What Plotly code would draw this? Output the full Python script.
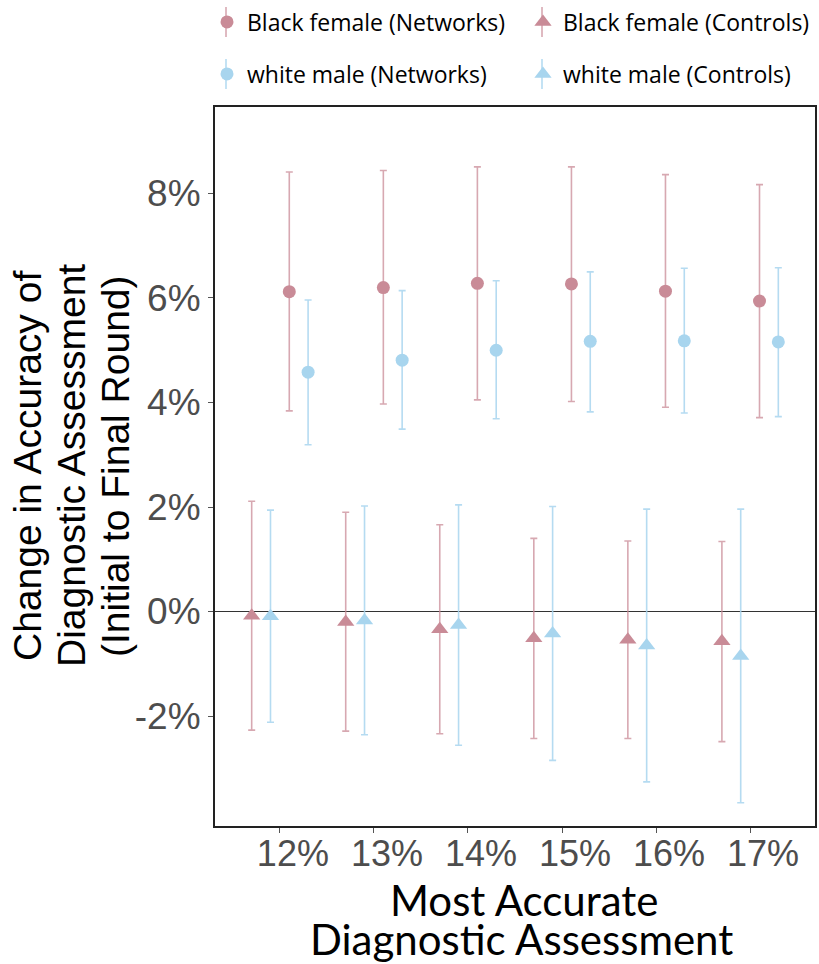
import numpy as np
import plotly.graph_objects as go

# ---------------- data ----------------
categories = [12, 13, 14, 15, 16, 17]
tick_labels = ["12%", "13%", "14%", "15%", "16%", "17%"]
y_ticks = [-2, 0, 2, 4, 6, 8]
y_tick_labels = ["-2%", "0%", "2%", "4%", "6%", "8%"]

bf_net = [6.12, 6.20, 6.28, 6.27, 6.13, 5.94]
bf_net_hi = [8.41, 8.44, 8.51, 8.51, 8.36, 8.17]
bf_net_lo = [3.84, 3.97, 4.05, 4.02, 3.91, 3.71]

wm_net = [4.58, 4.81, 5.00, 5.17, 5.18, 5.16]
wm_net_hi = [5.96, 6.14, 6.33, 6.50, 6.57, 6.58]
wm_net_lo = [3.19, 3.49, 3.69, 3.82, 3.80, 3.73]

bf_ctl = [-0.08, -0.20, -0.34, -0.51, -0.54, -0.57]
bf_ctl_hi = [2.11, 1.90, 1.66, 1.40, 1.35, 1.34]
bf_ctl_lo = [-2.27, -2.29, -2.34, -2.43, -2.43, -2.49]

wm_ctl = [-0.09, -0.17, -0.26, -0.42, -0.65, -0.85]
wm_ctl_hi = [1.94, 2.02, 2.04, 2.01, 1.96, 1.96]
wm_ctl_lo = [-2.12, -2.36, -2.56, -2.85, -3.26, -3.66]

# ---------------- style ----------------
PINK = "#C98B97"
PINK_ERR = "rgba(201,139,151,0.75)"
BLUE = "#A8D5EE"
BLUE_ERR = "rgba(168,213,238,0.85)"

W, H = 819, 964
PL, PR, PT, PB = 215, 815, 107, 826   # plot area in pixels


def px_x(px):
    return (px - PL) / (PR - PL)


def px_y(py):
    return (PB - py) / (PB - PT)


# legend key positions (pixels): symbol centre x, row centre y
LEG_X = [226, 542]
LEG_Y = [22, 74]

series = [
    # name, values, hi, lo, color, errcolor, symbol, dodge, legend id, col, row
    ("Black female (Networks)", bf_net, bf_net_hi, bf_net_lo, PINK, PINK_ERR, "circle", 0.1, "legend", 0, 0),
    ("Black female (Controls)", bf_ctl, bf_ctl_hi, bf_ctl_lo, PINK, PINK_ERR, "triangle-up", -0.3, "legend2", 1, 0),
    ("white male (Networks)", wm_net, wm_net_hi, wm_net_lo, BLUE, BLUE_ERR, "circle", 0.3, "legend3", 0, 1),
    ("white male (Controls)", wm_ctl, wm_ctl_hi, wm_ctl_lo, BLUE, BLUE_ERR, "triangle-up", -0.1, "legend4", 1, 1),
]

fig = go.Figure()
legends = {}
for name, vals, hi, lo, col, ecol, sym, dodge, leg, c, r in series:
    v = np.array(vals)
    fig.add_trace(go.Scatter(
        x=np.array(categories) + dodge,
        y=v,
        mode="markers",
        name=name,
        legend=leg,
        marker=dict(symbol=sym, size=13 if sym == "circle" else 15, color=col, line=dict(width=0)),
        error_y=dict(
            type="data", symmetric=False,
            array=np.array(hi) - v, arrayminus=v - np.array(lo),
            color=ecol, thickness=1.6, width=3.5,
        ),
    ))
    legends[leg] = dict(
        x=px_x(LEG_X[c] - 19), xanchor="left",
        y=px_y(LEG_Y[r]), yanchor="middle",
        font=dict(family="Open Sans, sans-serif", size=23, color="black"),
        bgcolor="rgba(0,0,0,0)", borderwidth=0,
    )
    # error-bar stroke through the legend key, as in the reference
    fig.add_shape(type="line", xref="paper", yref="paper",
                  x0=px_x(LEG_X[c]), x1=px_x(LEG_X[c]),
                  y0=px_y(LEG_Y[r] - 15), y1=px_y(LEG_Y[r] + 15),
                  line=dict(color=ecol, width=1.6), layer="above")

AX_FONT = dict(family="Liberation Sans, Arial, sans-serif", color="#4D4D4D")

fig.update_layout(
    width=W, height=H,
    margin=dict(l=PL, r=W - PR, t=PT, b=H - PB, autoexpand=False),
    paper_bgcolor="white", plot_bgcolor="white",
    showlegend=True,
    **legends,
)

fig.update_xaxes(
    range=[11.31, 17.69],
    tickvals=categories, ticktext=tick_labels,
    ticks="outside", ticklen=5, tickcolor="#555555", tickwidth=1,
    tickfont=dict(size=36, **AX_FONT),
    ticklabelshift=13,
    ticklabelstandoff=-10,
    automargin=False,
    showgrid=False, zeroline=False,
    showline=True, mirror=True, linecolor="#222222", linewidth=2,
)
fig.update_yaxes(
    range=[-4.105, 9.655],
    tickvals=y_ticks, ticktext=y_tick_labels,
    ticks="outside", ticklen=5, tickcolor="#555555", tickwidth=1,
    tickfont=dict(size=37, **AX_FONT),
    automargin=False,
    showgrid=False,
    zeroline=True, zerolinecolor="#333333", zerolinewidth=1,
    showline=True, mirror=True, linecolor="#222222", linewidth=2,
)

# axis titles as separate lines (tight line spacing as in the reference)
ytitle_lines = ["Change in Accuracy of", "Diagnostic Assessment", "(Initial to Final Round)"]
for line, cx in zip(ytitle_lines, [27, 71, 115]):
    fig.add_annotation(
        text=line, xref="paper", yref="paper", x=px_x(cx), y=px_y(466),
        xanchor="center", yanchor="middle", textangle=-90, showarrow=False,
        font=dict(family="Liberation Sans, Arial, sans-serif", size=39, color="black"),
    )

xtitle_lines = ["Most Accurate", "Diagnostic Assessment"]
for line, cx, cy in zip(xtitle_lines, [524, 521], [900, 939]):
    fig.add_annotation(
        text=line, xref="paper", yref="paper", x=px_x(cx), y=px_y(cy),
        xanchor="center", yanchor="middle", showarrow=False,
        font=dict(family="Lato, sans-serif", size=42, color="black"),
    )

# remove the default 8px page margin so the figure fills the window exactly
fig.write_html("out.html", config={"displayModeBar": False},
               post_script="document.body.style.margin='0';")
